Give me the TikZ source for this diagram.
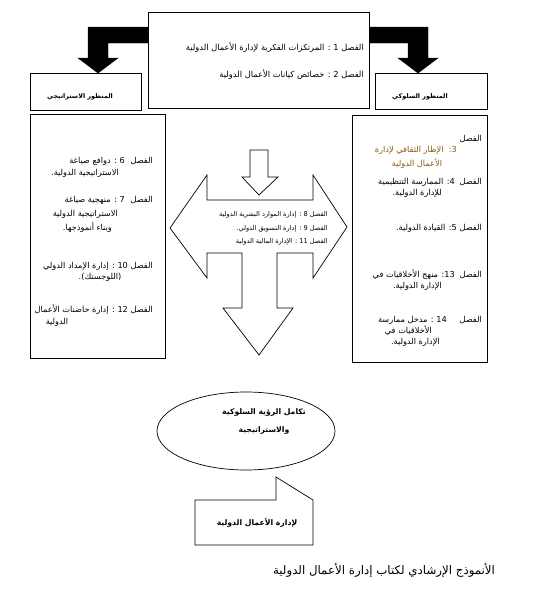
\documentclass[tikz,border=0pt]{standalone}
\usepackage{fontspec}
\TeXXeTstate=1
\newfontfamily\arabicfont[Script=Arabic]{DejaVu Sans}
\newcommand{\artxt}[1]{{\arabicfont\beginR #1\endR}}
\newcommand{\ltrnum}[1]{\beginL #1\endL{}}
\definecolor{chapbrown}{RGB}{140,90,20}
\begin{document}
\begin{tikzpicture}[x=1pt,y=-1pt,
  frame/.style={draw=black,line width=0.7pt,fill=white},
  body/.style={inner sep=0pt,font=\fontsize{8.2}{9}\selectfont},
  topt/.style={inner sep=0pt,font=\fontsize{8.3}{9}\selectfont},
  midt/.style={inner sep=0pt,font=\fontsize{6.6}{7}\selectfont},
  labelt/.style={inner sep=0pt,font=\fontsize{6.4}{7}\selectfont\bfseries},
  boldt/.style={inner sep=0pt,font=\fontsize{7.7}{8}\selectfont\bfseries},
  blackarrow/.style={fill=black,draw=black}]
\useasboundingbox (0,0) rectangle (537,614);

% black arrows
\fill[blackarrow] (148,27) -- (88,27) -- (88,58) -- (78,58) -- (98,73) -- (118,58) -- (108,58) -- (108,43) -- (148,43) -- cycle;
\fill[blackarrow] (368,27) -- (428,27) -- (428,58) -- (438,58) -- (418,73) -- (398,58) -- (408,58) -- (408,43) -- (368,43) -- cycle;

% top box
\draw[frame] (148,12) rectangle (369,108);
\node[topt,anchor=east] (t1) at (364,48) {\artxt{الفصل \ltrnum{1} : المرتكزات الفكرية لإدارة الأعمال الدولية}};
\node[topt,anchor=east] (t2) at (364,75) {\artxt{الفصل \ltrnum{2} : خصائص كيانات الأعمال الدولية}};

% label boxes
\draw[frame] (30,73) rectangle (141,110);
\node[labelt] (lstrat) at (80,97) {\artxt{المنظور الاستراتيجي}};
\draw[frame] (375,73) rectangle (487,109);
\node[labelt] (lbeh) at (420,97) {\artxt{المنظور السلوكي}};

% left content box
\draw[frame] (30,114) rectangle (165,358);
\node[body,anchor=east] (l6a) at (153,161) {\artxt{الفصل}};
\node[body,anchor=east] (l6b) at (125,161) {\artxt{\ltrnum{6} : دوافع صياغة}};
\node[body,anchor=east] (l6c) at (119,173) {\artxt{الاستراتيجية الدولية.}};
\node[body,anchor=east] (l7a) at (153,200) {\artxt{الفصل}};
\node[body,anchor=east] (l7b) at (125,200) {\artxt{\ltrnum{7} : منهجية صياغة}};
\node[body,anchor=east] (l7c) at (118,214) {\artxt{الاستراتيجية الدولية}};
\node[body,anchor=east] (l7d) at (112,227) {\artxt{وبناء أنموذجها.}};
\node[body,anchor=east] (l10a) at (153,266) {\artxt{الفصل \ltrnum{10} : إدارة الإمداد الدولي}};
\node[body] (l10b) at (100,277) {\artxt{(اللوجستك).}};
\node[body,anchor=east] (l12a) at (153,310) {\artxt{الفصل \ltrnum{12} : إدارة حاضنات الأعمال}};
\node[body] (l12b) at (57,322) {\artxt{الدولية}};

% right content box
\draw[frame] (352,115) rectangle (487,362);
\node[body,anchor=east] (r3a) at (482,139) {\artxt{الفصل}};
\node[body,anchor=east,text=chapbrown] (r3b) at (457,150) {\artxt{\ltrnum{3}:\ \ الإطار الثقافي لإدارة}};
\node[body,text=chapbrown] (r3c) at (417,164) {\artxt{الأعمال الدولية}};
\node[body,anchor=east] (r4a) at (482,182) {\artxt{الفصل}};
\node[body,anchor=east] (r4b) at (455,182) {\artxt{\ltrnum{4}: الممارسة التنظيمية}};
\node[body,anchor=east] (r4c) at (442,193) {\artxt{للإدارة الدولية.}};
\node[body,anchor=east] (r5) at (482,228) {\artxt{الفصل \ltrnum{5}: القيادة الدولية.}};
\node[body,anchor=east] (r13a) at (482,275) {\artxt{الفصل}};
\node[body,anchor=east] (r13b) at (455,275) {\artxt{\ltrnum{13}: منهج الأخلاقيات في}};
\node[body,anchor=east] (r13c) at (442,286) {\artxt{الإدارة الدولية.}};
\node[body,anchor=east] (r14a) at (482,320) {\artxt{الفصل}};
\node[body,anchor=east] (r14b) at (447,320) {\artxt{\ltrnum{14} : مدخل ممارسة}};
\node[body,anchor=east] (r14c) at (432,331) {\artxt{الأخلاقيات في}};
\node[body,anchor=east] (r14d) at (440,342) {\artxt{الإدارة الدولية.}};

% central arrows
\draw[frame] (250,150) -- (268,150) -- (268,177) -- (278,177) -- (259,195) -- (242,177) -- (250,177) -- cycle;
\draw[frame] (170,228) -- (207,175) -- (207,200) -- (313,200) -- (313,175) -- (347,227) -- (313,278) -- (313,253) -- (277,253) -- (277,308) -- (293,308) -- (259,355) -- (223,308) -- (242,308) -- (242,253) -- (207,253) -- (207,278) -- cycle;
\node[midt,anchor=east] (c8) at (328,215) {\artxt{الفصل \ltrnum{8} : إدارة الموارد البشرية الدولية}};
\node[midt,anchor=east] (c9) at (328,229) {\artxt{الفصل \ltrnum{9} : إدارة التسويق الدولي.}};
\node[midt,anchor=east] (c11) at (328,242) {\artxt{الفصل \ltrnum{11} : الإدارة المالية الدولية}};

% ellipse
\draw[frame] (246,431) ellipse [x radius=89,y radius=39];
\node[boldt] (e1) at (264,413) {\artxt{تكامل الرؤية السلوكية}};
\node[boldt] (e2) at (264,431) {\artxt{والاستراتيجية}};

% callout
\draw[frame] (195,500) -- (276,500) -- (276,477) -- (313,500) -- (313,545) -- (195,545) -- cycle;
\node[boldt] (cl) at (257,523) {\artxt{لإدارة الأعمال الدولية}};

% caption
\node[inner sep=0pt,font=\fontsize{11.8}{13}\selectfont] (cap) at (384,570) {\artxt{الأنموذج الإرشادي لكتاب إدارة الأعمال الدولية}};
\end{tikzpicture}
\end{document}
